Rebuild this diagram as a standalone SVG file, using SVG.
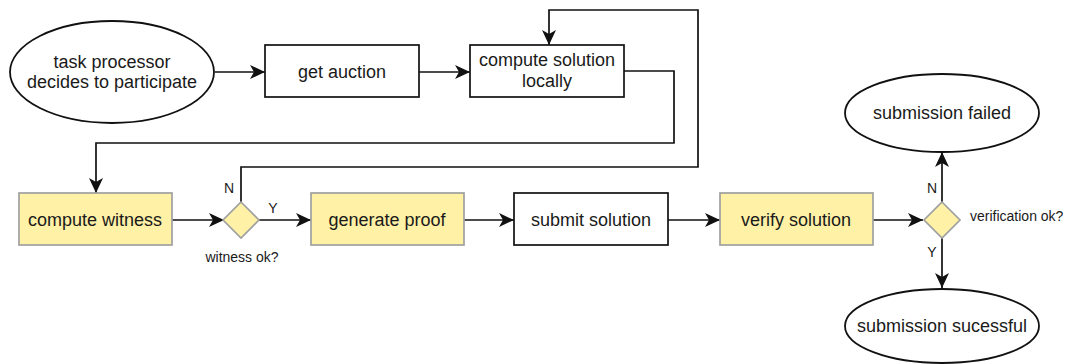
<svg xmlns="http://www.w3.org/2000/svg" width="1070" height="364" viewBox="0 0 1070 364">
<defs>
<style>
text{font-family:"Liberation Sans",Arial,sans-serif;fill:#1a1a1a;text-anchor:middle}
.t{font-size:18px}
.s{font-size:14px}
.w{fill:#fff;stroke:#111;stroke-width:1.7}
.y{fill:#fff1a6;stroke:#a0a0a0;stroke-width:1.7}
.e{fill:#fff;stroke:#111;stroke-width:1.8}
.c{fill:none;stroke:#111;stroke-width:1.7}
</style>
<marker id="a" markerUnits="userSpaceOnUse" markerWidth="16" markerHeight="14" refX="15" refY="7" orient="auto">
<path d="M0,0 L15,7 L0,14 L4,7 z" fill="#111"/>
</marker>
</defs>
<g id="connectors">
<path class="c" d="M215,72 H265" marker-end="url(#a)"/>
<path class="c" d="M419,72 H470" marker-end="url(#a)"/>
<path class="c" d="M624,71 H674 V143 H96 V193" marker-end="url(#a)"/>
<path class="c" d="M241,202 V167 H698 V10 H549 V45" marker-end="url(#a)"/>
<path class="c" d="M172,220 H224" marker-end="url(#a)"/>
<path class="c" d="M259,220 H311" marker-end="url(#a)"/>
<path class="c" d="M464,220 H514" marker-end="url(#a)"/>
<path class="c" d="M668,220 H720" marker-end="url(#a)"/>
<path class="c" d="M873,220 H923" marker-end="url(#a)"/>
<path class="c" d="M942,202 V152" marker-end="url(#a)"/>
<path class="c" d="M942,238 V288" marker-end="url(#a)"/>
<text class="s" x="229" y="193">N</text>
<text class="s" x="273" y="213">Y</text>
<text class="s" x="932" y="193">N</text>
<text class="s" x="932" y="257">Y</text>
</g>
<g id="start">
<ellipse class="e" cx="112" cy="72" rx="102" ry="51"/>
<text class="t" x="112" y="68">task processor</text>
<text class="t" x="112" y="88">decides to participate</text>
</g>
<g id="get-auction">
<rect class="w" x="265" y="45" width="154" height="52"/>
<text class="t" x="342" y="78">get auction</text>
</g>
<g id="compute-solution">
<rect class="w" x="470" y="45" width="154" height="52"/>
<text class="t" x="547" y="66">compute solution</text>
<text class="t" x="547" y="87">locally</text>
</g>
<g id="compute-witness">
<rect class="y" x="19" y="193" width="153" height="52"/>
<text class="t" x="95" y="226">compute witness</text>
</g>
<g id="witness-ok">
<path class="y" d="M241,202 L259,220 L241,238 L223,220 z"/>
<text class="s" x="242" y="262">witness ok?</text>
</g>
<g id="generate-proof">
<rect class="y" x="311" y="193" width="153" height="52"/>
<text class="t" x="387" y="226">generate proof</text>
</g>
<g id="submit-solution">
<rect class="w" x="514" y="193" width="154" height="52"/>
<text class="t" x="591" y="226">submit solution</text>
</g>
<g id="verify-solution">
<rect class="y" x="720" y="193" width="153" height="52"/>
<text class="t" x="796" y="226">verify solution</text>
</g>
<g id="verification-ok">
<path class="y" d="M942,202 L960,220 L942,238 L924,220 z"/>
<text class="s" x="970" y="221" style="text-anchor:start">verification ok?</text>
</g>
<g id="failed">
<ellipse class="e" cx="942" cy="113" rx="97" ry="39"/>
<text class="t" x="942" y="119">submission failed</text>
</g>
<g id="success">
<ellipse class="e" cx="942" cy="326" rx="97" ry="37"/>
<text class="t" x="942" y="332">submission sucessful</text>
</g>
</svg>
